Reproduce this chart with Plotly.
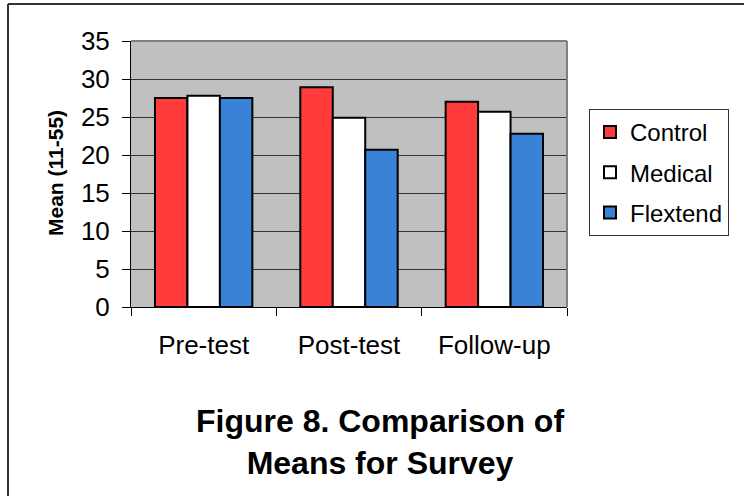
import plotly.graph_objects as go

# Survey means per phase and group
phases = ["Pre-test", "Post-test", "Follow-up"]
control = [27.5, 28.9, 27.0]
medical = [27.8, 24.9, 25.7]
flextend = [27.5, 20.7, 22.8]

series = [
    ("Control", control, "#FF3B3B"),
    ("Medical", medical, "#FFFFFF"),
    ("Flextend", flextend, "#3A82D8"),
]

FONT = "Liberation Sans, Arial, sans-serif"

fig = go.Figure()
for name, vals, color in series:
    fig.add_trace(go.Bar(
        name=name, x=phases, y=vals, legendgroup=name,
        marker=dict(color=color, line=dict(color="#000000", width=2)),
    ))

W, H = 744, 496
L, R, T, B = 131, 177, 41, 189
pw, ph = W - L - R, H - T - B


def px_x(p):
    return (p - L) / pw


def px_y(p):
    return (H - B - p) / ph


fig.update_layout(
    width=W, height=H,
    margin=dict(l=L, r=R, t=T, b=B, autoexpand=False),
    paper_bgcolor="#FFFFFF",
    plot_bgcolor="#C0C0C0",
    barmode="group",
    bargap=0.33,
    bargroupgap=0,
    font=dict(family=FONT, color="#000000"),
    showlegend=True,
    legend=dict(
        x=px_x(589), y=px_y(109), xanchor="left", yanchor="top",
        bgcolor="#FFFFFF", bordercolor="#333333", borderwidth=1,
        font=dict(size=24, family=FONT), tracegroupgap=6, itemwidth=30,
    ),
    xaxis=dict(
        type="category", tickson="boundaries", ticks="outside", ticklen=8,
        tickcolor="#000000", showline=True, linecolor="#000000", linewidth=1,
        tickfont=dict(size=26), showgrid=False, ticklabelstandoff=15,
    ),
    yaxis=dict(
        range=[0, 35], tickvals=[0, 5, 10, 15, 20, 25, 30, 35],
        ticks="outside", ticklen=8, tickcolor="#000000",
        showline=True, linecolor="#000000", linewidth=1,
        gridcolor="#333333", gridwidth=1, zeroline=False,
        tickfont=dict(size=26), ticklabelstandoff=7,
    ),
    shapes=[
        # plot area border on top and right
        dict(type="line", xref="paper", yref="paper", x0=0, x1=1, y0=1, y1=1,
             line=dict(color="#808080", width=2)),
        dict(type="line", xref="paper", yref="paper", x0=1, x1=1, y0=0, y1=1,
             line=dict(color="#808080", width=2)),
        # outer chart frame
        dict(type="line", xref="paper", yref="paper",
             x0=px_x(8), x1=px_x(W + 10), y0=px_y(4), y1=px_y(4),
             line=dict(color="#333333", width=2)),
        dict(type="line", xref="paper", yref="paper",
             x0=px_x(8), x1=px_x(8), y0=px_y(4), y1=px_y(H + 10),
             line=dict(color="#333333", width=2)),
    ],
    annotations=[
        dict(text="<b>Mean (11-55)</b>", textangle=-90, showarrow=False,
             xref="paper", yref="paper", x=px_x(55), y=px_y(173),
             xanchor="center", yanchor="middle", font=dict(size=21, family=FONT)),
        dict(text="<b>Figure 8. Comparison of<br>Means for Survey</b>",
             showarrow=False, xref="paper", yref="paper",
             x=px_x(380), y=px_y(442), xanchor="center", yanchor="middle",
             font=dict(size=32, family=FONT)),
    ],
)

fig.write_html("out.html")
